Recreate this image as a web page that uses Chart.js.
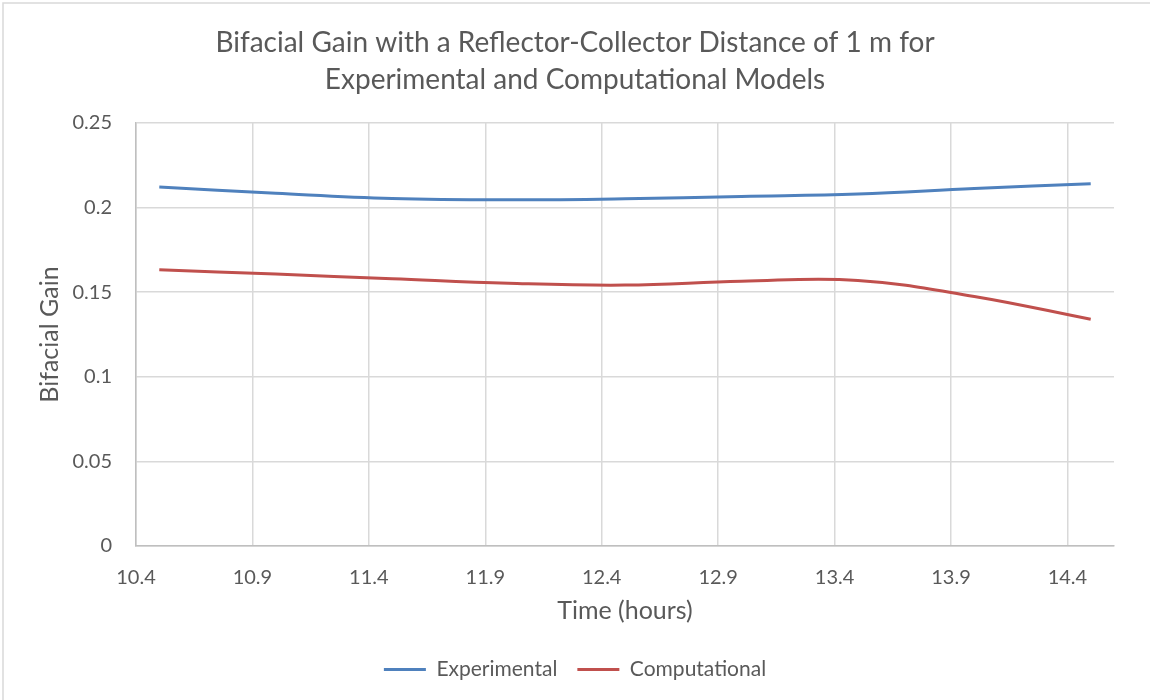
<!DOCTYPE html>
<html>
<head>
<meta charset="utf-8">
<title>Bifacial Gain</title>
<script src="https://cdn.jsdelivr.net/npm/chart.js@4.4.1/dist/chart.umd.min.js"></script>
<style>
  html, body { margin: 0; padding: 0; background: #fff; }
  #wrap { position: relative; width: 1150px; height: 700px; }
</style>
</head>
<body>
<div id="wrap"><canvas id="gainChart" width="1150" height="700"></canvas></div>
<script>
// --- Daten ---
const hours = [10.5, 11, 11.5, 12, 12.5, 13, 13.5, 14, 14.5];
const experimental = [0.2122, 0.2085, 0.2054, 0.2046, 0.2052, 0.2066, 0.208, 0.2113, 0.2141];
const computational = [0.1633, 0.1607, 0.158, 0.1553, 0.1542, 0.1565, 0.157, 0.1475, 0.134];

const xTicks = [10.4, 10.9, 11.4, 11.9, 12.4, 12.9, 13.4, 13.9, 14.4];
const yTicks = [0, 0.05, 0.1, 0.15, 0.2, 0.25];
const yTickLabels = ['0', '0.05', '0.1', '0.15', '0.2', '0.25'];

const toPoints = vals => hours.map((h, i) => ({ x: h, y: vals[i] }));

// dünner Rahmen oben und links
const frame = {
    id: 'frame',
    beforeDraw(chart) {
        const ctx = chart.ctx;
        ctx.save();
        ctx.strokeStyle = '#d9d9d9';
        ctx.lineWidth = 1.5;
        ctx.beginPath();
        ctx.moveTo(3, 700);
        ctx.lineTo(3, 3);
        ctx.lineTo(1150, 3);
        ctx.stroke();
        ctx.restore();
    }
};

Chart.defaults.font.family = 'Lato';
Chart.defaults.color = '#595959';

new Chart(document.getElementById('gainChart'), {
    type: 'scatter',
    data: {
        datasets: [
            { label: 'Experimental', data: toPoints(experimental), borderColor: '#4f81bd', backgroundColor: '#4f81bd',
              showLine: true, borderWidth: 3, pointRadius: 0, tension: 0.4 },
            { label: 'Computational', data: toPoints(computational), borderColor: '#c0504d', backgroundColor: '#c0504d',
              showLine: true, borderWidth: 3, pointRadius: 0, tension: 0.4 }
        ]
    },
    options: {
        responsive: false,
        animation: false,
        layout: { padding: { top: 0, left: 0, right: 0, bottom: 10 } },
        scales: {
            x: {
                type: 'linear',
                min: 10.4,
                max: 14.6,
                afterBuildTicks: s => { s.ticks = xTicks.map(v => ({ value: v })); },
                afterFit: s => { s.height = 93; s.paddingRight = 36; },
                ticks: { padding: 20, font: { size: 20 }, callback: v => v.toFixed(1) },
                grid: { color: '#d9d9d9', lineWidth: 1.5, drawTicks: false },
                border: { color: '#bfbfbf', width: 1.5 },
                title: { display: true, text: 'Time (hours)', font: { size: 25 }, padding: { top: 0, bottom: 13 } }
            },
            y: {
                min: 0,
                max: 0.25,
                afterBuildTicks: s => { s.ticks = yTicks.map(v => ({ value: v })); },
                afterFit: s => { s.width = 136; },
                ticks: { padding: 24, font: { size: 20 }, callback: (v, i) => yTickLabels[i] },
                grid: { color: '#d9d9d9', lineWidth: 1.5, drawTicks: false },
                border: { color: '#bfbfbf', width: 1.5 },
                title: { display: true, text: 'Bifacial Gain', font: { size: 25 }, padding: { top: 35, bottom: 0 } }
            }
        },
        plugins: {
            title: {
                display: true,
                text: ['Bifacial Gain with a Reflector-Collector Distance of 1 m for', 'Experimental and Computational Models'],
                font: { size: 28, weight: 'normal', lineHeight: 1.34 },
                color: '#595959',
                padding: { top: 24, bottom: 24 }
            },
            legend: {
                position: 'bottom',
                labels: {
                    boxWidth: 42,
                    boxHeight: 3,
                    padding: 20,
                    font: { size: 21 },
                    generateLabels: chart => Chart.defaults.plugins.legend.labels.generateLabels(chart)
                        .map(l => Object.assign(l, { lineWidth: 0 }))
                }
            },
            tooltip: { enabled: false }
        }
    },
    plugins: [frame]
});
</script>
</body>
</html>
